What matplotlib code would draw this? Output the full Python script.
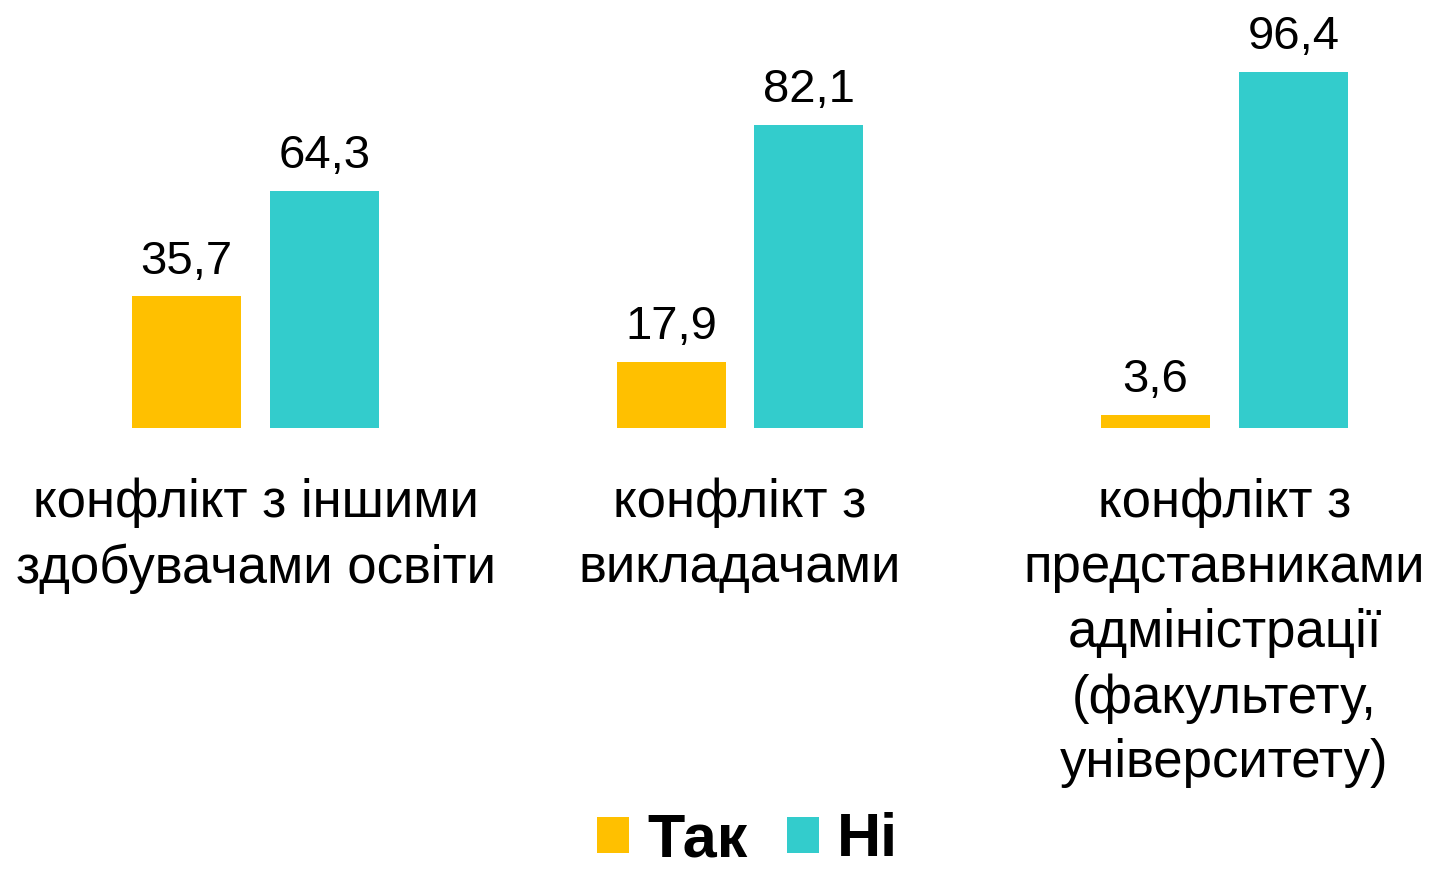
import numpy as np
import matplotlib.pyplot as plt

# Дані
categories = ["конфлікт з іншими\nздобувачами освіти",
              "конфлікт з\nвикладачами",
              "конфлікт з\nпредставниками\nадміністрації\n(факультету,\nуніверситету)"]
tak = [35.7, 17.9, 3.6]
ni = [64.3, 82.1, 96.4]
series_names = ["Так", "Ні"]

plt.rcParams['font.family'] = ['Liberation Sans', 'DejaVu Sans']

fig = plt.figure(figsize=(14.3, 8.77), dpi=100)
ax = fig.add_axes([0, (877 - 428) / 877, 1, 369.3 / 877])

x = np.arange(len(categories))
w = 0.225
off = 0.1424
b1 = ax.bar(x - off, tak, w, color="#FFC000", label=series_names[0])
b2 = ax.bar(x + off, ni, w, color="#33CCCC", label=series_names[1])

for bars, vals in [(b1, tak), (b2, ni)]:
    for rect, v in zip(bars, vals):
        ax.annotate(f"{v:.1f}".replace(".", ","),
                    (rect.get_x() + rect.get_width() / 2, v),
                    xytext=(0, 9), textcoords="offset points",
                    ha="center", va="bottom", fontsize=34, clip_on=False)

for xi, cat in zip(x, categories):
    ax.annotate(cat, (xi, 0), xycoords=("data", "axes fraction"),
                xytext=(0, -36), textcoords="offset points",
                ha="center", va="top", fontsize=38, linespacing=1.38)

ax.set_xlim((0 - 255.5) / 484.5, (1430 - 255.5) / 484.5)
ax.set_ylim(0, 100)
ax.axis("off")

leg = fig.legend(handles=[b1, b2], loc="center", bbox_to_anchor=(0.523, 1 - 841 / 877),
                 ncol=2, frameon=False, handlelength=0.52, handleheight=0.52,
                 handletextpad=0.3, columnspacing=0.64,
                 prop={"size": 44, "weight": "bold"})

fig.savefig("out.png", dpi=100)
